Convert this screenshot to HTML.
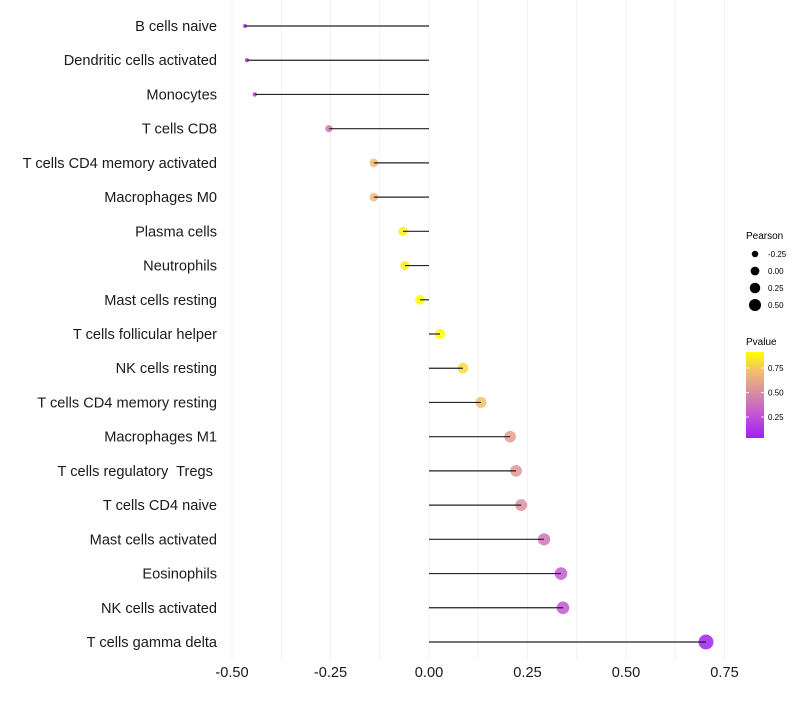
<!DOCTYPE html>
<html><head><meta charset="utf-8"><style>
body{margin:0;background:#fff;width:800px;height:700px;overflow:hidden}
svg{font-family:"Liberation Sans",sans-serif}
#labels text{white-space:pre}
</style></head><body>
<svg id="chart" width="800" height="700">
<defs><linearGradient id="pg" x1="0" y1="1" x2="0" y2="0">
<stop offset="0" stop-color="#a020f0"/><stop offset="0.25" stop-color="#c050d8"/><stop offset="0.5" stop-color="#d887a8"/><stop offset="0.75" stop-color="#f0b878"/><stop offset="1" stop-color="#ffff00"/></linearGradient></defs>
<g id="grid"></g>
<g id="marks"></g>
<g id="labels"></g>
<g id="xticks"></g>
<g>
<text x="746" y="239" font-size="10">Pearson</text>
<g id="sizeLegend"></g>
</g>
<g>
<text x="746" y="345" font-size="10">Pvalue</text>
<rect x="746" y="352" width="18" height="86" fill="url(#pg)"/>
<g id="cbTicks"></g>
</g>
</svg>
<script>
const categories=["B cells naive","Dendritic cells activated","Monocytes","T cells CD8","T cells CD4 memory activated","Macrophages M0","Plasma cells","Neutrophils","Mast cells resting","T cells follicular helper","NK cells resting","T cells CD4 memory resting","Macrophages M1","T cells regulatory  Tregs ","T cells CD4 naive","Mast cells activated","Eosinophils","NK cells activated","T cells gamma delta"];
const pearson=[-0.467,-0.462,-0.442,-0.254,-0.14,-0.14,-0.066,-0.061,-0.023,0.028,0.086,0.132,0.206,0.221,0.234,0.292,0.335,0.34,0.703];
const pvalues=[0.1,0.1,0.15,0.42,0.7,0.7,0.86,0.85,0.93,0.9,0.8,0.72,0.58,0.55,0.52,0.4,0.3,0.28,0.04];
const xTicks=[-0.5,-0.25,0,0.25,0.5,0.75];
const xTickLabels=["-0.50","-0.25","0.00","0.25","0.50","0.75"];
const sizeLegendVals=[-0.25,0,0.25,0.5];
const sizeLegendLabels=["-0.25","0.00","0.25","0.50"];
const cbVals=[0.25,0.5,0.75];
const cbLabels=["0.25","0.50","0.75"];

const NS="http://www.w3.org/2000/svg";
const x=v=>429+v*394;
const y=i=>26+i*(616/18);
const r=v=>Math.sqrt(Math.max(2.5,24.7+44.4*v));
const pmin=0.036,pmax=0.913;
const stops=[[0,[160,32,240]],[0.25,[192,80,216]],[0.5,[216,135,168]],[0.75,[240,184,120]],[1,[255,255,0]]];
function col(p){let t=Math.min(1,Math.max(0,(p-pmin)/(pmax-pmin)));
for(let k=1;k<stops.length;k++){if(t<=stops[k][0]){const a=stops[k-1],b=stops[k],f=(t-a[0])/(b[0]-a[0]);
return "rgb("+a[1].map((c,j)=>Math.round(c+(b[1][j]-c)*f)).join(",")+")";}}return "rgb(255,255,0)";}
function mk(tag,attrs,parent){const e=document.createElementNS(NS,tag);for(const k in attrs)e.setAttribute(k,attrs[k]);parent.appendChild(e);return e;}
const grid=document.getElementById('grid'),marks=document.getElementById('marks'),labels=document.getElementById('labels'),xt=document.getElementById('xticks');
for(let v=-0.5;v<=0.751;v+=0.125){const l=mk('line',{x1:x(v),x2:x(v),y1:0,y2:660,stroke:'#f2f2f2','stroke-width':1},grid);

}
categories.forEach((c,i)=>{
const t=mk('text',{x:217,y:y(i)+5,'text-anchor':'end','font-size':14.6,fill:'#1a1a1a'},labels);t.textContent=c;


const ci=mk('circle',{cx:x(pearson[i]),cy:y(i),r:r(pearson[i]),fill:col(pvalues[i]),'fill-opacity':0.85},marks);


const ln=mk('line',{x1:x(0),x2:x(pearson[i]),y1:y(i),y2:y(i),stroke:'#222','stroke-width':1.2},marks);


});
xTicks.forEach((v,i)=>{const t=mk('text',{x:x(v),y:677,'text-anchor':'middle','font-size':14.6,fill:'#1a1a1a'},xt);t.textContent=xTickLabels[i];

});
const sl=document.getElementById('sizeLegend');
sizeLegendVals.forEach((v,i)=>{const cy=254+i*17;
const c=mk('circle',{cx:755,cy:cy,r:r(v)*0.88,fill:'#000'},sl);


const t=mk('text',{x:768,y:cy+3,'font-size':8},sl);t.textContent=sizeLegendLabels[i];

});
const cb=document.getElementById('cbTicks');
cbVals.forEach((v,i)=>{const yy=438-(v-pmin)/(pmax-pmin)*86;
const l1=mk('line',{x1:746,x2:749,y1:yy,y2:yy,stroke:'#fff','stroke-width':0.8},cb);


const l2=mk('line',{x1:761,x2:764,y1:yy,y2:yy,stroke:'#fff','stroke-width':0.8},cb);


const t=mk('text',{x:768,y:yy+3,'font-size':8},cb);t.textContent=cbLabels[i];

});
</script>
</body></html>
